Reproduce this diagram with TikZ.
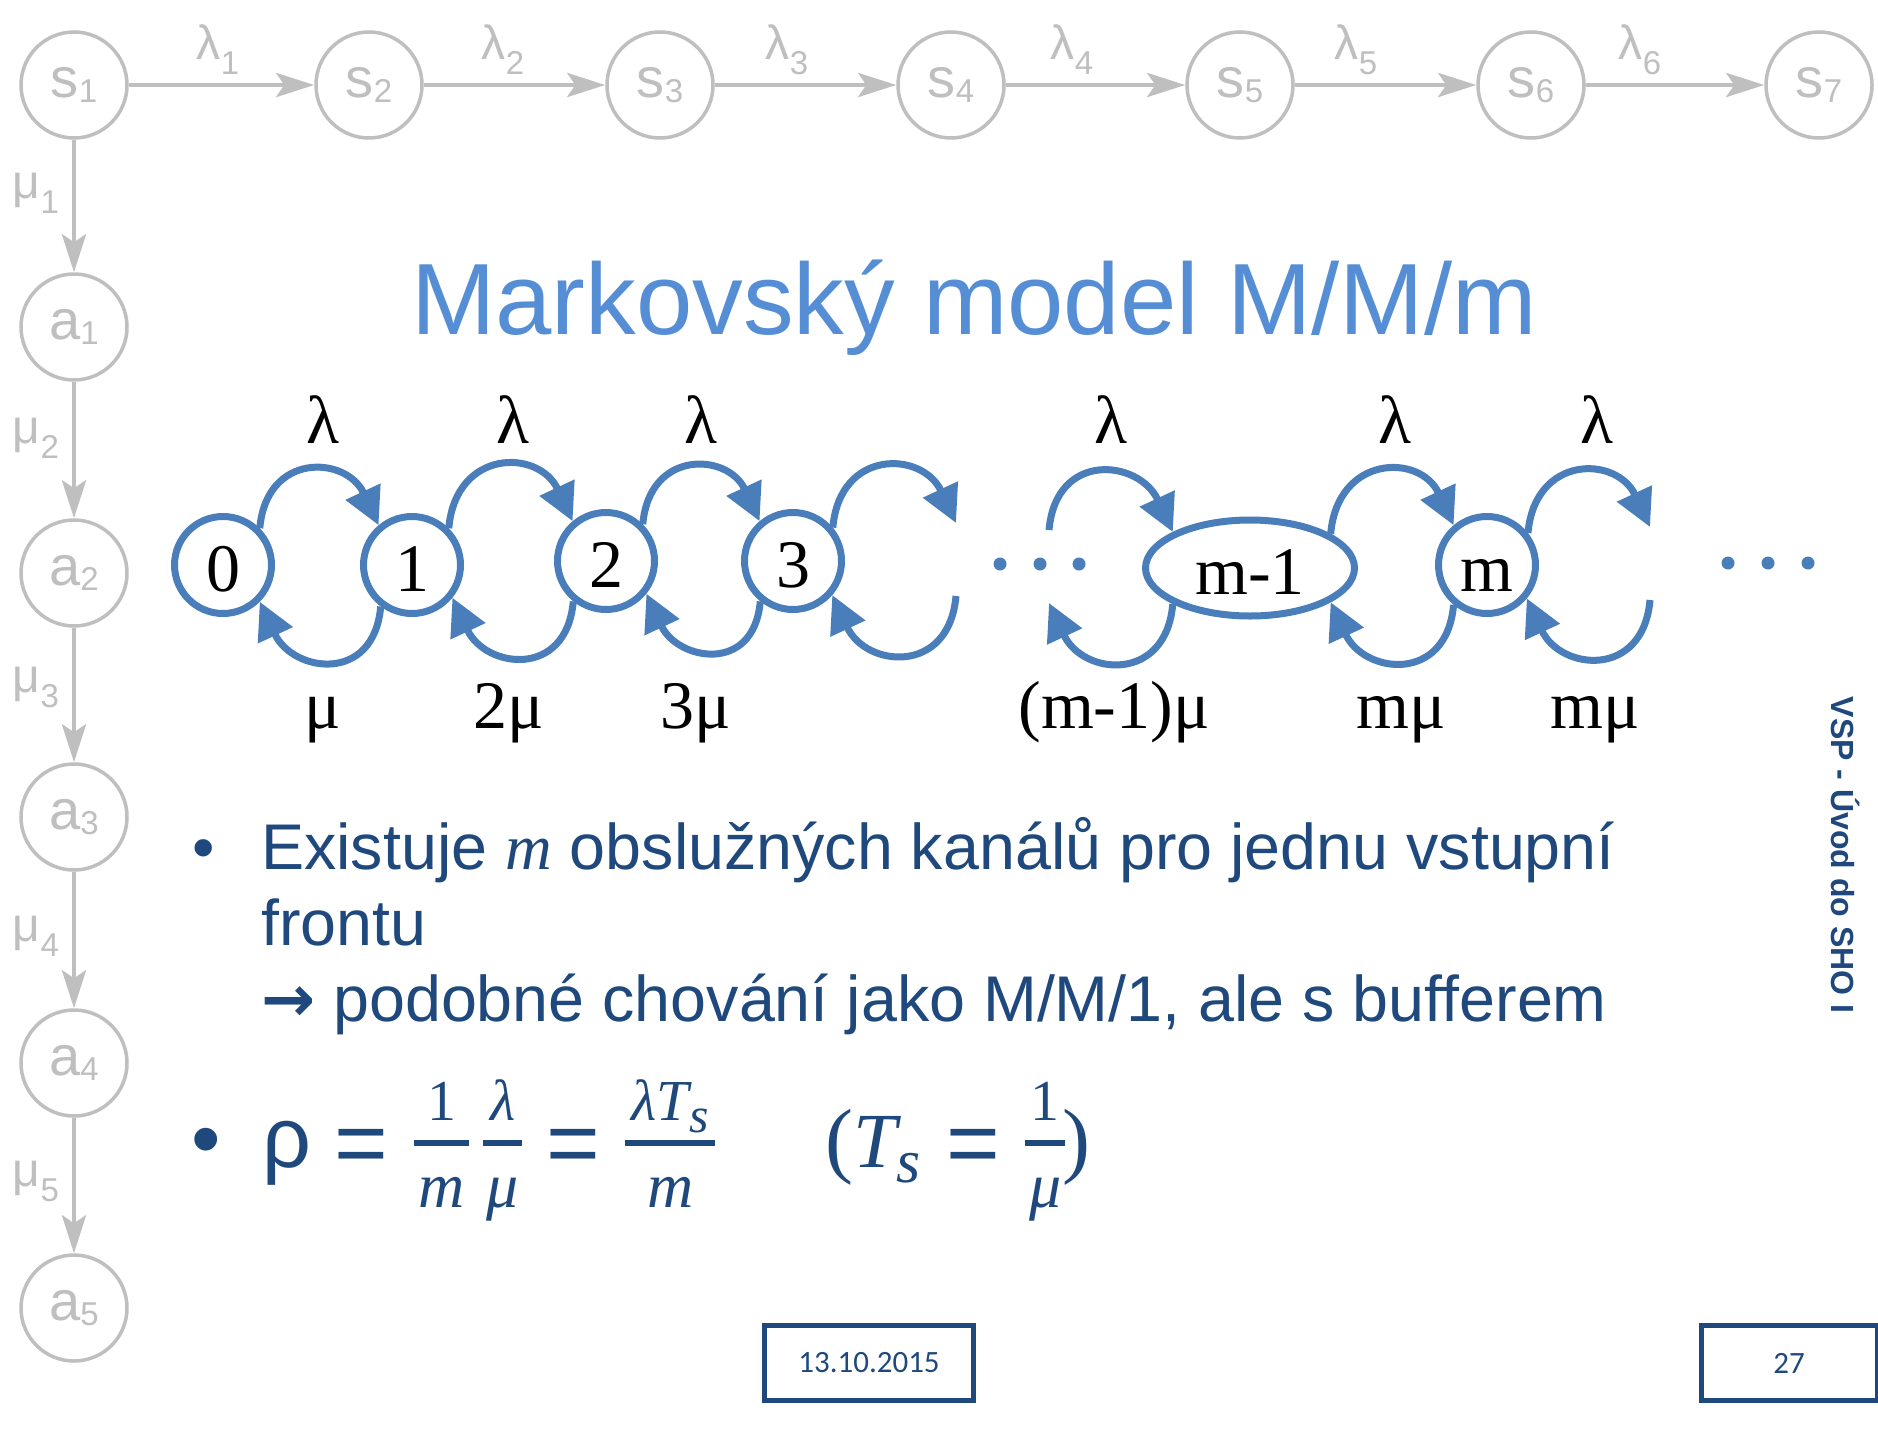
\documentclass[tikz,border=0pt]{standalone}
\usepackage{fontspec}
\usetikzlibrary{arrows.meta,shapes.geometric}
\newfontfamily\arial{Liberation Sans}
\newfontfamily\tnr{Liberation Serif}
\newfontfamily\carlito{Carlito}
\newfontfamily\dejavu{DejaVu Sans}

\definecolor{gr}{RGB}{191,191,191}
\definecolor{bl}{RGB}{74,126,187}
\definecolor{ttl}{RGB}{85,142,213}
\definecolor{dk}{RGB}{31,73,125}

% state name with a small lowered index (gray chain)
\newcommand{\gstate}[2]{{\fontsize{56}{60}\selectfont #1}{\fontsize{33}{36}\selectfont\raisebox{-5pt}{#2}}}
% rate symbol with a lowered index (gray chain)
\newcommand{\grate}[2]{{\fontsize{48}{52}\selectfont #1}{\fontsize{33}{36}\selectfont\raisebox{-15pt}{#2}}}

% fonts of the formula
\newcommand{\fnum}{\tnr\fontsize{58}{60}\selectfont}
\newcommand{\fitl}{\tnr\itshape\fontsize{58}{62}\selectfont}
\newcommand{\fden}{\tnr\itshape\fontsize{64}{68}\selectfont}
\newcommand{\fsub}{\tnr\itshape\fontsize{50}{54}\selectfont}
% content centred in a box of given width
\newcommand{\cbox}[2]{\hbox to #1{\hss#2\hss}}
% stacked fraction: width, numerator, denominator
\newcommand{\frc}[3]{\hbox to #1{%
  \rlap{\hbox to #1{\hss\raisebox{47pt}{#2}\hss}}%
  \rlap{\hbox to #1{\hss\raisebox{-40pt}{#3}\hss}}%
  \raisebox{21pt}{\vrule width #1 height 6pt depth 0pt}}}
\newcommand{\eqsign}{\cbox{52pt}{\arial\fontsize{92}{96}\selectfont\raisebox{-7pt}{=}}}

\begin{document}
\begin{tikzpicture}[x=1pt,y=1pt,
  gnode/.style={circle, draw=gr, line width=3.5pt, minimum size=106pt, inner sep=0pt, font=\arial, text=gr},
  garrow/.style={gr, line width=4.5pt, -{Stealth[length=38pt,width=24pt,inset=8pt]}},
  glabel/.style={inner sep=0pt, anchor=base, font=\arial, text=gr},
  bnode/.style={circle, draw=bl, line width=7pt, minimum size=97pt, inner sep=0pt,
    font=\tnr\fontsize{68}{72}\selectfont, text height=52pt, text depth=0pt},
  barc/.style={bl, line width=7pt, -{Triangle[length=37pt,width=37pt]}},
  uarc/.style={out=85, in=115, looseness=1.65},
  larc/.style={out=265, in=-65, looseness=1.65},
  blabel/.style={inner sep=0pt, anchor=base, font=\tnr\fontsize{68}{72}\selectfont},
  bdot/.style={circle, fill=bl, minimum size=13pt, inner sep=0pt},
  body/.style={inner sep=0pt, anchor=base west, text=dk, font=\arial\fontsize{64.6}{76}\selectfont},
  bullet/.style={inner sep=0pt, anchor=base, text=dk, font=\arial},
  formula/.style={inner sep=0pt, anchor=base west, text=dk},
  footbox/.style={draw=dk, line width=5pt, minimum height=75pt, inner sep=0pt,
    text=dk, font=\carlito\fontsize{31}{36}\selectfont}
]
\fill[white] (0,0) rectangle (1878,-1440);
\path[use as bounding box] (0,0) rectangle (1878,-1440);

% ---------- gray background chain ----------
\foreach \i/\x in {1/74,2/369,3/660,4/951,5/1240,6/1531,7/1819}
  \node[gnode] (s\i) at (\x,-85) {\gstate{s}{\i}};
\foreach \i/\y in {1/327,2/573,3/817,4/1063,5/1308}
  \node[gnode] (a\i) at (74,-\y) {\gstate{a}{\i}};

\foreach \i/\j in {1/2,2/3,3/4,4/5,5/6,6/7}
  \draw[garrow] (s\i) -- (s\j);
\draw[garrow] (s1) -- (a1);
\foreach \i/\j in {1/2,2/3,3/4,4/5}
  \draw[garrow] (a\i) -- (a\j);

\foreach \i/\x in {1/218,2/503,3/787,4/1072,5/1356,6/1640}
  \node[glabel] (lam\i) at (\x,-59) {\grate{λ}{\i}};
\foreach \i/\y in {1/198,2/443,3/692,4/941,5/1186}
  \node[glabel] (mu\i) at (36,-\y) {\grate{μ}{\i}};

% ---------- title ----------
\node[inner sep=0pt, anchor=base, text=ttl, font=\arial\fontsize{101.3}{110}\selectfont]
  (title) at (974,-334) {Markovský model M/M/m};

% ---------- M/M/m birth-death chain ----------
\node[bnode] (n0) at (223,-565) {0};
\node[bnode] (n1) at (412,-565) {1};
\node[bnode] (n2) at (606,-561) {2};
\node[bnode] (n3) at (793,-561) {3};
\node[bnode, ellipse, minimum width=209pt, minimum height=96pt] (nm1) at (1250,-568) {m-1};
\node[bnode] (nm) at (1487,-565) {m};

\coordinate (u3) at (956,-523);
\coordinate (l3) at (956,-596);
\coordinate (um1) at (1049,-530);
\coordinate (lm1) at (1049,-603);
\coordinate (um) at (1650,-527);
\coordinate (lm) at (1650,-600);

% arrivals (upper arcs)
\draw[barc] (n0.45) to[uarc] (n1.130);
\draw[barc] (n1.45) to[uarc] (n2.130);
\draw[barc] (n2.45) to[uarc] (n3.130);
\draw[barc] (n3.40) to[uarc] (u3);
\draw[barc] (um1) to[uarc] (nm1.155);
\draw[barc] (nm1.23) to[uarc] (nm.130);
\draw[barc] (nm.38) to[uarc] (um);

% services (lower arcs)
\draw[barc] (n1.233) to[larc] (n0.315);
\draw[barc] (n2.231) to[larc] (n1.321);
\draw[barc] (n3.231) to[larc] (n2.321);
\draw[barc] (l3) to[larc] (n3.319);
\draw[barc] (nm1.205) to[larc] (lm1);
\draw[barc] (nm.230) to[larc] (nm1.-23);
\draw[barc] (lm) to[larc] (nm.320);

\foreach \k/\x in {1/1000,2/1040,3/1079}
  \node[bdot] (dl\k) at (\x,-564) {};
\foreach \k/\x in {1/1728,2/1768,3/1808}
  \node[bdot] (dr\k) at (\x,-563) {};

\foreach \k/\x in {1/323,2/513,3/701,4/1111,5/1395,6/1597}
  \node[blabel] (lt\k) at (\x,-443) {λ};
\node[blabel] (lb1) at (323,-728) {μ};
\node[blabel] (lb2) at (509,-728) {2μ};
\node[blabel] (lb3) at (696,-728) {3μ};
\node[blabel] (lb4) at (1114,-728) {(m-1)μ};
\node[blabel] (lb5) at (1401,-728) {mμ};
\node[blabel] (lb6) at (1595,-728) {mμ};

% ---------- bullet text ----------
\node[bullet, font=\arial\fontsize{64}{76}\selectfont] (b1) at (204,-869) {•};
\node[body] (line1) at (261,-869) {Existuje {\tnr\itshape m} obslužných kanálů pro jednu vstupní};
\node[body] (line2) at (261,-945) {frontu};
\node[body] (line3) at (261,-1021) {{\dejavu\bfseries →} podobné chování jako M/M/1, ale s bufferem};

\node[bullet, font=\arial\fontsize{84}{90}\selectfont] (b2) at (206,-1167) {•};
\node[formula] (rho) at (266,-1167) {%
  \cbox{42pt}{\arial\fontsize{86}{90}\selectfont ρ}\kern27pt
  \eqsign\kern27pt
  \frc{55pt}{\fnum 1}{\fden m}\kern14pt
  \frc{39pt}{\fitl λ}{\fden μ}\kern25pt
  \eqsign\kern26pt
  \frc{90pt}{\fitl λT\raisebox{-12pt}{\fsub s}}{\fden m}\kern113pt
  \cbox{23pt}{\tnr\fontsize{84}{88}\selectfont (}%
  \hbox to 63pt{\kern2pt{\tnr\itshape\fontsize{78}{82}\selectfont T}\raisebox{-15pt}{\tnr\itshape\fontsize{62}{66}\selectfont s}\hss}\kern33pt
  \eqsign\kern26pt
  \frc{40pt}{\fnum 1}{\fden μ}%
  \cbox{23pt}{\tnr\fontsize{84}{88}\selectfont )}};

% ---------- side title and footer ----------
\node[rotate=-90, inner sep=0pt, text=dk, font=\arial\bfseries\fontsize{32}{36}\selectfont]
  (side) at (1845,-855) {VSP - Úvod do SHO I};

\node[footbox, minimum width=209pt] (date) at (869,-1363) {13.10.2015};
\node[footbox, minimum width=176pt] (page) at (1789,-1363) {27};
\end{tikzpicture}
\end{document}
